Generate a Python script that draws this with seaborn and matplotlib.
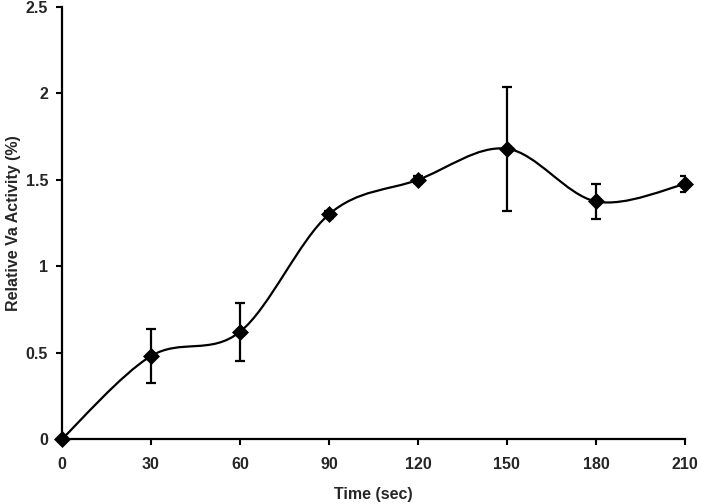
import numpy as np
import pandas as pd
import matplotlib
matplotlib.use("Agg")
import matplotlib.pyplot as plt
from matplotlib.path import Path
from matplotlib.patches import PathPatch
import seaborn as sns

time_sec = [0, 30, 60, 90, 120, 150, 180, 210]
activity = [0.0, 0.48, 0.62, 1.30, 1.50, 1.68, 1.375, 1.475]
activity_err = [0.0, 0.157, 0.168, 0.02, 0.02, 0.36, 0.10, 0.045]
x_ticks = [0, 30, 60, 90, 120, 150, 180, 210]
y_ticks = [0, 0.5, 1, 1.5, 2, 2.5]

df = pd.DataFrame({"time": time_sec, "activity": activity, "err": activity_err})

sns.set_style("ticks")
plt.rcParams["font.family"] = ["Liberation Sans", "DejaVu Sans"]
plt.rcParams["font.weight"] = "bold"

fig, ax = plt.subplots(figsize=(7.01, 5.04), dpi=100)
fig.subplots_adjust(left=0.0884, right=0.977, bottom=0.129, top=0.986)


def smooth_path(xs, ys):
    # Excel-style smoothed line: cubic Bezier segments through each point
    pts = np.column_stack([xs, ys]).astype(float)
    ext = np.vstack([pts[0], pts, pts[-1]])
    verts = [pts[0]]
    codes = [Path.MOVETO]
    for i in range(1, len(ext) - 2):
        p0, p1, p2, p3 = ext[i - 1], ext[i], ext[i + 1], ext[i + 2]
        verts += [p1 + (p2 - p0) / 6, p2 - (p3 - p1) / 6, p2]
        codes += [Path.CURVE4] * 3
    return Path(verts, codes)


ax.add_patch(PathPatch(smooth_path(df["time"], df["activity"]),
                       facecolor="none", edgecolor="black", lw=1.6, zorder=2))

ax.errorbar(df["time"], df["activity"], yerr=df["err"], fmt="none",
            ecolor="black", elinewidth=1.6, capsize=3.5, capthick=1.6, zorder=3)
sns.scatterplot(data=df, x="time", y="activity", marker="D", s=75,
                color="black", edgecolor="black", linewidth=0, ax=ax,
                zorder=4, clip_on=False)

ax.set_xlim(0, 210)
ax.set_ylim(0, 2.5)
ax.set_xticks(x_ticks)
ax.set_yticks(y_ticks)
ax.set_yticklabels([f"{v:g}" for v in y_ticks])
ax.tick_params(axis="both", labelsize=11.5, length=4, width=1.5, direction="out",
               pad=6, color="black")
ax.tick_params(axis="x", pad=9)
for lab in ax.get_xticklabels() + ax.get_yticklabels():
    lab.set_fontweight("bold")

ax.set_xlabel("Time (sec)", fontsize=11.5, fontweight="bold", labelpad=11)
ax.set_ylabel("Relative Va Activity (%)", fontsize=11.5, fontweight="bold", labelpad=3)

sns.despine(ax=ax)
for side in ["left", "bottom"]:
    ax.spines[side].set_linewidth(1.6)
    ax.spines[side].set_color("black")

fig.savefig("out.png", dpi=100)
